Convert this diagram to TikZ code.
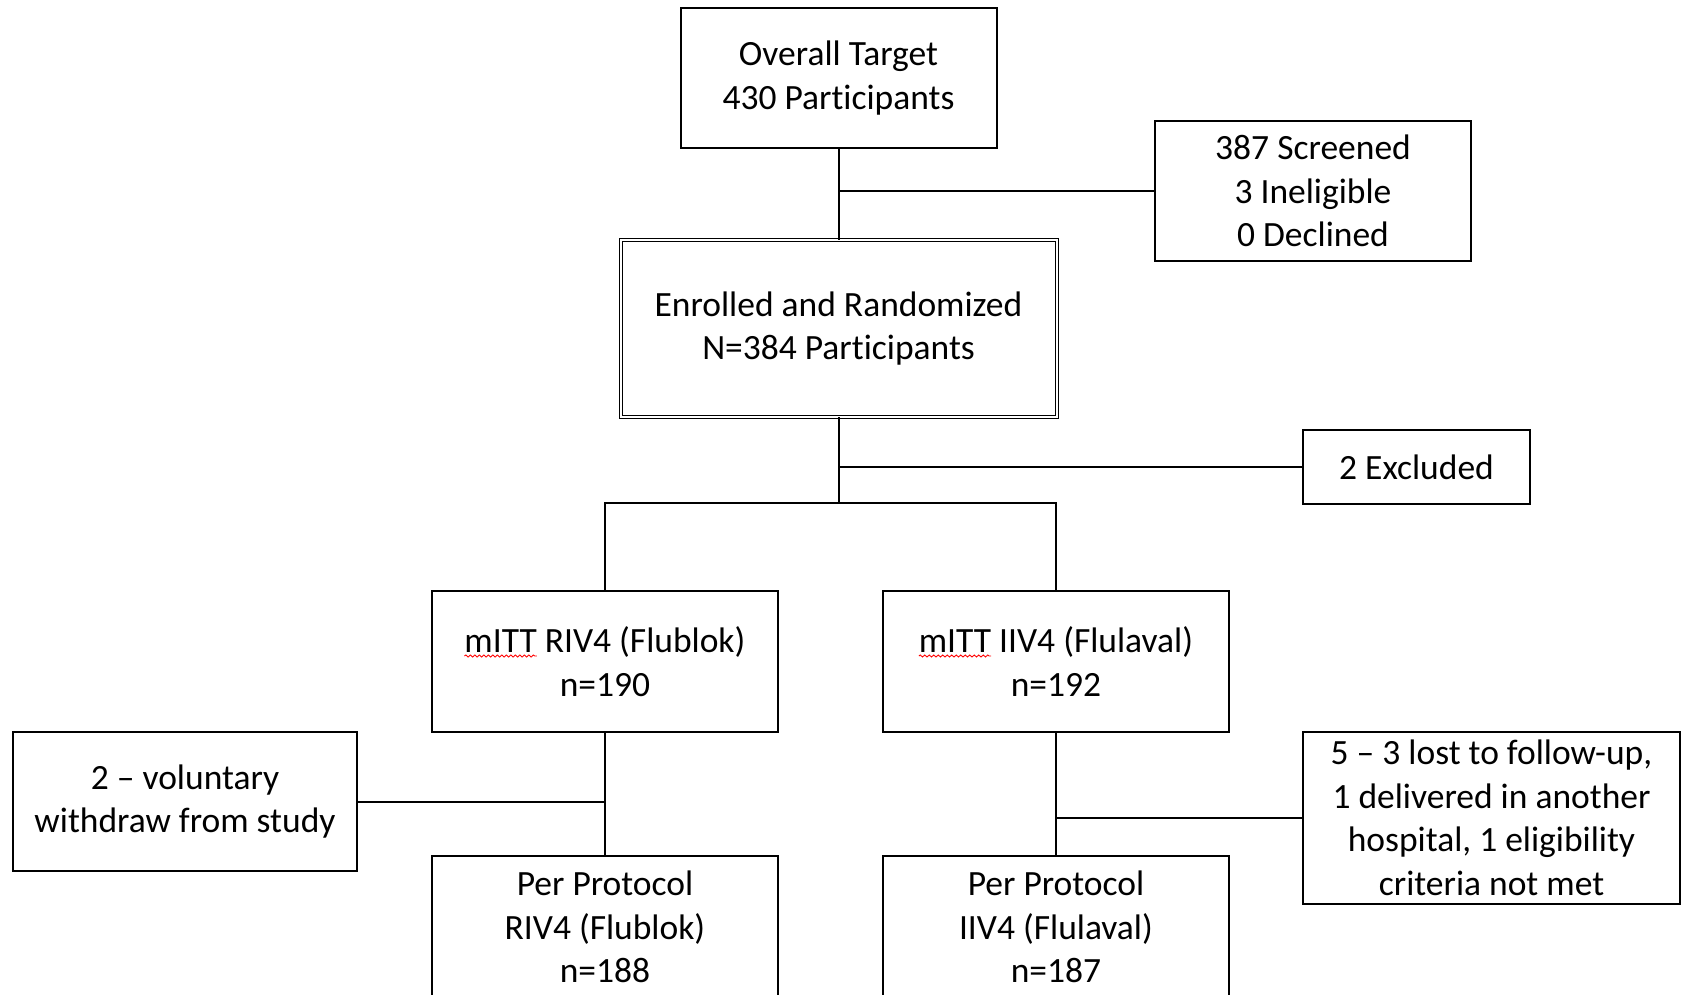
\documentclass[tikz,border=0pt]{standalone}
\usepackage{fontspec}
\setmainfont{Carlito}[Ligatures=NoCommon]
\usetikzlibrary{decorations.pathmorphing}
\begin{document}
\begin{tikzpicture}[x=1pt,y=-1pt,
  txt/.style={font=\fontsize{35.5}{43.5}\selectfont},
  box/.style={txt,draw,line width=2pt,align=center,inner sep=0pt},
  dbox/.style={txt,draw,line width=1pt,double,double distance=2pt,align=center,inner sep=0pt},
  conn/.style={line width=2pt},
  squig/.style={red,line width=0.9pt,decorate,decoration={snake,amplitude=1pt,segment length=4.5pt}}]
\fontsize{35.5}{43.5}\selectfont
\clip (0,0) rectangle (1682,995);
\fill[white] (0,0) rectangle (1682,995);
% boxes
\node[box,minimum width=316pt,minimum height=140pt] (target) at (838.5,78) {Overall Target\\430 Participants};
\node[box,minimum width=316pt,minimum height=140pt] (screened) at (1313,191) {387 Screened\\3 Ineligible\\0 Declined};
\node[dbox,minimum width=436pt,minimum height=176pt] (enrolled) at (838.5,328.5) {Enrolled and Randomized\\N=384 Participants};
\node[box,minimum width=227pt,minimum height=74pt] (excluded) at (1416.5,467) {2 Excluded};
\node[box,minimum width=346pt,minimum height=141pt] (rivm) at (605,661.5) {mITT RIV4 (Flublok)\\n=190};
\node[box,minimum width=346pt,minimum height=141pt] (iivm) at (1056,661.5) {mITT IIV4 (Flulaval)\\n=192};
\node[box,minimum width=344pt,minimum height=139pt] (vol) at (185,801.5) {2 – voluntary\\withdraw from study};
\node[box,minimum width=377pt,minimum height=172pt] (lost) at (1491.5,818) {5 – 3 lost to follow-up,\\1 delivered in another\\hospital, 1 eligibility\\criteria not met};
\node[box,minimum width=346pt,minimum height=142pt] (ppl) at (605,927) {Per Protocol\\RIV4 (Flublok)\\n=188};
\node[box,minimum width=346pt,minimum height=142pt] (ppr) at (1056,927) {Per Protocol\\IIV4 (Flulaval)\\n=187};
\coordinate (b) at (838.5,503);
% connectors
\draw[conn] (target.south) -- (enrolled.north);
\draw[conn] (screened.west) -- (screened.west -| target.south);
\draw[conn] (enrolled.south) -- (b);
\draw[conn] (excluded.west) -- (excluded.west -| enrolled.south);
\draw[conn] (rivm.north) |- (b) -| (iivm.north);
\draw[conn] (rivm.south) -- (ppl.north);
\draw[conn] (vol.east) -- (vol.east -| rivm.south);
\draw[conn] (iivm.south) -- (ppr.north);
\draw[conn] (lost.west) -- (lost.west -| iivm.south);
% spell-check squiggles
\pgfmathsetmacro\wm{width("mITT")}
\pgfmathsetmacro\wl{width("mITT RIV4 (Flublok)")}
\pgfmathsetmacro\wr{width("mITT IIV4 (Flulaval)")}
\draw[squig] (605-\wl/2,656) -- (605-\wl/2+\wm,656);
\draw[squig] (1056-\wr/2,656) -- (1056-\wr/2+\wm,656);
\end{tikzpicture}
\end{document}
